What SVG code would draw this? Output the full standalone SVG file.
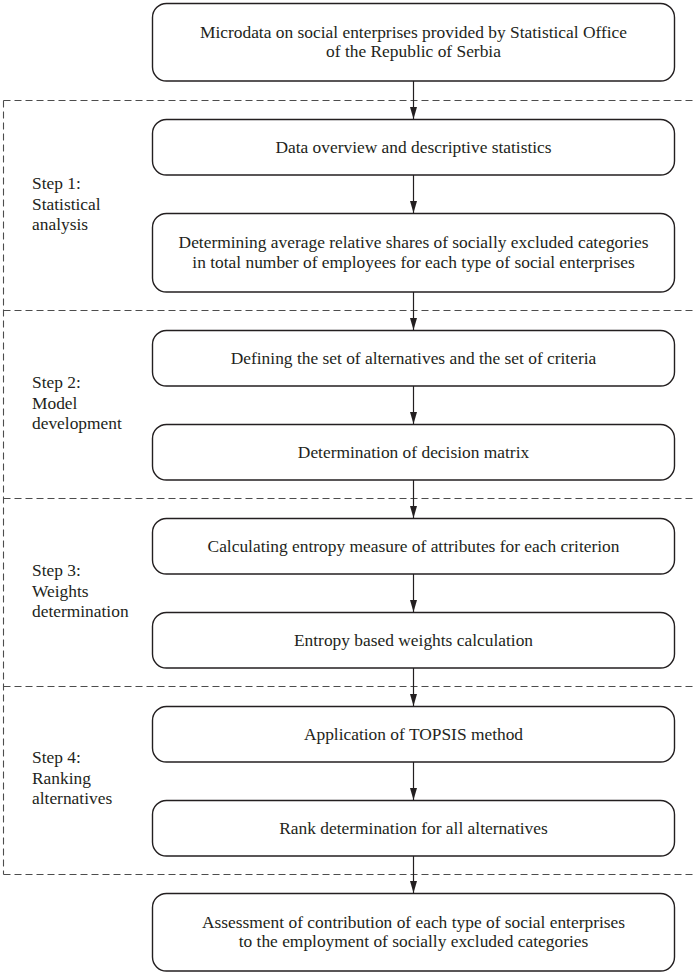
<svg xmlns="http://www.w3.org/2000/svg" width="696" height="973" viewBox="0 0 696 973">
<style>
.box{fill:#fff;stroke:#231f20;stroke-width:1.4}
.t{font-family:"Liberation Serif","Times New Roman",serif;font-size:17.4px;fill:#231f20}
.c{text-anchor:middle}
.dash{stroke:#4d4d4d;stroke-width:1.1;stroke-dasharray:7 4;fill:none}
.arr{stroke:#231f20;stroke-width:1.2;fill:none;marker-end:url(#ah)}
</style>
<defs>
<marker id="ah" markerUnits="userSpaceOnUse" markerWidth="12" markerHeight="8" refX="12" refY="3.5" orient="auto">
<path d="M0,0 L12,3.5 L0,7 z" fill="#231f20"/>
</marker>
</defs>
<rect width="696" height="973" fill="#fff"/>
<g id="groups">
<path class="dash" d="M3.5,100.5 H700 M3.5,310.5 H700 M3.5,498.5 H700 M3.5,686.5 H700 M3.5,874.5 H700 M3.5,100.5 V874.5"/>
</g>
<g id="step1"><text class="t" x="32" y="189">Step 1:</text><text class="t" x="32" y="209.5">Statistical</text><text class="t" x="32" y="230">analysis</text></g>
<g id="step2"><text class="t" x="32" y="388">Step 2:</text><text class="t" x="32" y="408.5">Model</text><text class="t" x="32" y="429">development</text></g>
<g id="step3"><text class="t" x="32" y="576">Step 3:</text><text class="t" x="32" y="596.5">Weights</text><text class="t" x="32" y="617">determination</text></g>
<g id="step4"><text class="t" x="32" y="763">Step 4:</text><text class="t" x="32" y="783.5">Ranking</text><text class="t" x="32" y="804">alternatives</text></g>
<g id="connectors">
<line class="arr" x1="413.5" y1="81" x2="413.5" y2="119"/>
<line class="arr" x1="413.5" y1="175" x2="413.5" y2="213"/>
<line class="arr" x1="413.5" y1="292" x2="413.5" y2="330"/>
<line class="arr" x1="413.5" y1="386" x2="413.5" y2="424"/>
<line class="arr" x1="413.5" y1="480" x2="413.5" y2="518"/>
<line class="arr" x1="413.5" y1="574" x2="413.5" y2="612"/>
<line class="arr" x1="413.5" y1="668" x2="413.5" y2="706"/>
<line class="arr" x1="413.5" y1="762" x2="413.5" y2="800"/>
<line class="arr" x1="413.5" y1="856" x2="413.5" y2="893"/>
</g>
<g id="n1"><rect class="box" x="152.5" y="3.5" width="522" height="77.5" rx="14"/><text class="t c" x="413.5" y="37.5">Microdata on social enterprises provided by Statistical Office</text><text class="t c" x="413.5" y="57">of the Republic of Serbia</text></g>
<g id="n2"><rect class="box" x="152.5" y="119.5" width="522" height="55.5" rx="14"/><text class="t c" x="413.5" y="152.5">Data overview and descriptive statistics</text></g>
<g id="n3"><rect class="box" x="152.5" y="213.5" width="522" height="78.5" rx="14"/><text class="t c" x="413.5" y="248">Determining average relative shares of socially excluded categories</text><text class="t c" x="413.5" y="267.5">in total number of employees for each type of social enterprises</text></g>
<g id="n4"><rect class="box" x="152.5" y="330.5" width="522" height="55.5" rx="14"/><text class="t c" x="413.5" y="363.5">Defining the set of alternatives and the set of criteria</text></g>
<g id="n5"><rect class="box" x="152.5" y="424.5" width="522" height="55.5" rx="14"/><text class="t c" x="413.5" y="457.5">Determination of decision matrix</text></g>
<g id="n6"><rect class="box" x="152.5" y="518.5" width="522" height="55.5" rx="14"/><text class="t c" x="413.5" y="551.5">Calculating entropy measure of attributes for each criterion</text></g>
<g id="n7"><rect class="box" x="152.5" y="612.5" width="522" height="55.5" rx="14"/><text class="t c" x="413.5" y="645.5">Entropy based weights calculation</text></g>
<g id="n8"><rect class="box" x="152.5" y="706.5" width="522" height="55.5" rx="14"/><text class="t c" x="413.5" y="739.5">Application of TOPSIS method</text></g>
<g id="n9"><rect class="box" x="152.5" y="800.5" width="522" height="55.5" rx="14"/><text class="t c" x="413.5" y="833.5">Rank determination for all alternatives</text></g>
<g id="n10"><rect class="box" x="152.5" y="893.5" width="522" height="77.5" rx="14"/><text class="t c" x="413.5" y="927.5">Assessment of contribution of each type of social enterprises</text><text class="t c" x="413.5" y="947">to the employment of socially excluded categories</text></g>
</svg>
